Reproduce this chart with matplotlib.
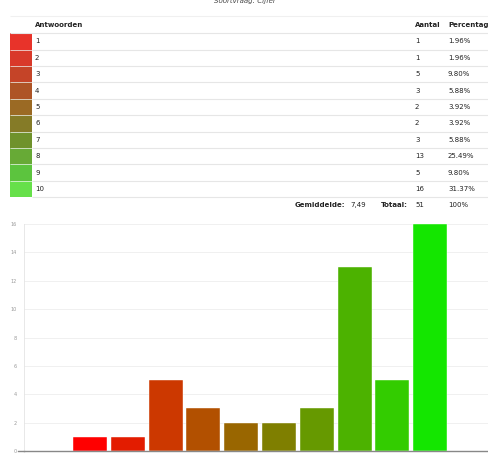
import matplotlib.pyplot as plt

# answers and counts for the survey question
answers = ['1', '2', '3', '4', '5', '6', '7', '8', '9', '10']
counts = [1, 1, 5, 3, 2, 2, 3, 13, 5, 16]
percentages = ['1.96%', '1.96%', '9.80%', '5.88%', '3.92%', '3.92%', '5.88%', '25.49%', '9.80%', '31.37%']
average = '7,49'
total = 51

# swatch colours in the table, bar colours in the chart
swatch_colors = ['#e8332a', '#d9392a', '#c54428', '#ae5426', '#9b6a24', '#857b27',
                 '#6f922b', '#67aa36', '#5cc43e', '#66e04a']
bar_colors = ['#ff0000', '#e31c00', '#cc3800', '#b25000', '#996600', '#7f7f00',
              '#669900', '#4cb200', '#33cc00', '#14e600']

W, H = 489, 455
fig = plt.figure(figsize=(W / 100, H / 100), dpi=100)

TXT = '#222222'
LINE = '#e6e6e6'
FS = 5

# ---- table: x in pixels, y in rows (0 = header, 11 = summary row) ----
tab = fig.add_axes([0, 0, 1, 1])
row_h = 16.4
tab.set_xlim(0, W)
tab.set_ylim((H - 25) / row_h, -25 / row_h)
tab.axis('off')

tab.text(245, -1.45, 'Soortvraag: Cijfer', ha='center', va='center', fontsize=FS,
         style='italic', color='#444444')
tab.hlines(-0.55, 10, W, color='#f0f0f0', lw=0.8)
tab.text(35, 0, 'Antwoorden', ha='left', va='center', fontsize=FS, weight='bold', color=TXT)
tab.text(415, 0, 'Aantal', ha='left', va='center', fontsize=FS, weight='bold', color=TXT)
tab.text(448, 0, 'Percentage', ha='left', va='center', fontsize=FS, weight='bold', color=TXT)
tab.hlines(0.5, 10, W, color=LINE, lw=0.8)

for i, (a, c, p) in enumerate(zip(answers, counts, percentages)):
    r = i + 1
    tab.fill_between([10, 32], r - 0.5, r + 0.5, color=swatch_colors[i], lw=0)
    tab.text(35, r, a, ha='left', va='center', fontsize=FS, color=TXT)
    tab.text(415, r, str(c), ha='left', va='center', fontsize=FS, color=TXT)
    tab.text(448, r, p, ha='left', va='center', fontsize=FS, color=TXT)
    tab.hlines(r + 0.5, 32, W, color=LINE, lw=0.8)
    if r < len(answers):
        tab.hlines(r + 0.5, 10, 32, color='#f4f4f4', lw=0.5, zorder=3)

tab.text(345, 11, 'Gemiddelde:', ha='right', va='center', fontsize=FS, weight='bold', color=TXT)
tab.text(350, 11, average, ha='left', va='center', fontsize=FS, color=TXT)
tab.text(408, 11, 'Totaal:', ha='right', va='center', fontsize=FS, weight='bold', color=TXT)
tab.text(415, 11, str(total), ha='left', va='center', fontsize=FS, color=TXT)
tab.text(448, 11, '100%', ha='left', va='center', fontsize=FS, color=TXT)

# ---- bar chart ----
ax = fig.add_axes([24 / W, (H - 451) / H, (W - 24) / W, (451 - 224) / H])
xs = range(1, len(counts) + 1)
ax.bar(xs, counts, width=0.9, color=bar_colors, edgecolor='white', linewidth=0.3, zorder=3)
ax.set_xlim(-0.75, 11.56)
ax.set_ylim(0, 16)
ax.set_yticks(range(0, 17, 2))
ax.set_xticks([])
ax.tick_params(axis='y', length=0, pad=5, labelsize=3.5, labelcolor='#999999')
ax.grid(axis='y', color='#eeeeee', lw=0.6, zorder=0)
for s in ['top', 'right']:
    ax.spines[s].set_visible(False)
ax.spines['left'].set_color('#e4e4e4')
ax.spines['left'].set_linewidth(0.6)
ax.spines['bottom'].set_color('#888888')
ax.spines['bottom'].set_linewidth(1.0)
ax.spines['bottom'].set_zorder(4)
# short tick left of the baseline
ax.plot([-0.92, -0.75], [0, 0], color='#888888', lw=1.0, clip_on=False)

fig.savefig('out.png', dpi=100)
